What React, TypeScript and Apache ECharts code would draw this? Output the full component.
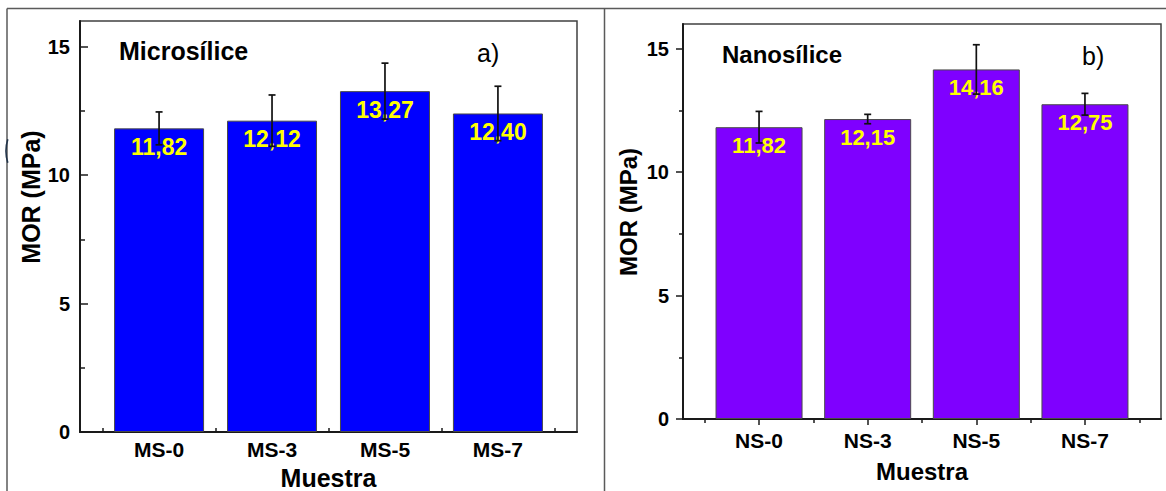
import React, { useEffect, useRef } from "react";
import * as echarts from "echarts";

const msCategories = ["MS-0", "MS-3", "MS-5", "MS-7"];
const msValues = [11.82, 12.12, 13.27, 12.4];
const msErrors = [0.64, 1.0, 1.09, 1.06];

const nsCategories = ["NS-0", "NS-3", "NS-5", "NS-7"];
const nsValues = [11.82, 12.15, 14.16, 12.75];
const nsErrors = [0.64, 0.19, 1.0, 0.44];

const yMajorTicks = [0, 5, 10, 15];
const yMinorTicks = [2.5, 7.5, 12.5];
const xMajorTicks = [1, 2, 3, 4];
const xMinorTicks = [0.5, 1.5, 2.5, 3.5, 4.5];

const FONT = "'Liberation Sans', Arial, sans-serif";

export default function App() {
  const ref = useRef<HTMLDivElement>(null);

  useEffect(() => {
    if (!ref.current) return;
    const chart = echarts.init(ref.current, undefined, { renderer: "svg" });

    const panels = [
      {
        cats: msCategories, vals: msValues, errs: msErrors,
        grid: { left: 80, top: 21, width: 497, height: 411 },
        inside: true, majorLen: 8, minorLen: 5, xMajorLen: 7, xMinorLen: 4,
        yMargin: 10, xMargin: 7, barWidth: 90, color: "#0000FF", labelSize: 23, tickSize: 21,
      },
      {
        cats: nsCategories, vals: nsValues, errs: nsErrors,
        grid: { left: 683, top: 24, width: 478, height: 395 },
        inside: false, majorLen: 7, minorLen: 4, xMajorLen: 6, xMinorLen: 4,
        yMargin: 14, xMargin: 11, barWidth: 87, color: "#7F00FF", labelSize: 22, tickSize: 21,
      },
    ];

    const grid: any[] = [];
    const xAxis: any[] = [];
    const yAxis: any[] = [];
    const series: any[] = [];

    panels.forEach((p, i) => {
      grid.push({ ...p.grid, show: true, borderColor: "#404040", borderWidth: 1.5, backgroundColor: "transparent" });
      const cats = p.cats;
      xAxis.push({
        type: "value", gridIndex: i, min: 0.3, max: 4.7, position: "bottom",
        axisLine: { show: true, onZero: false, lineStyle: { color: "#1a1a1a", width: 2 } },
        axisTick: { show: true, inside: p.inside, length: p.xMajorLen, customValues: xMajorTicks, lineStyle: { color: "#1a1a1a", width: 1.5 } },
        axisLabel: {
          show: true, customValues: xMajorTicks, margin: p.xMargin,
          formatter: (v: number) => cats[Math.round(v) - 1] ?? "",
          color: "#000", fontWeight: "bold", fontSize: p.tickSize, fontFamily: FONT,
        },
        splitLine: { show: false },
      });
      xAxis.push({
        type: "value", gridIndex: i, min: 0.3, max: 4.7, position: "bottom",
        axisLine: { show: false, onZero: false },
        axisTick: { show: true, inside: p.inside, length: p.xMinorLen, customValues: xMinorTicks, lineStyle: { color: "#1a1a1a", width: 1.5 } },
        axisLabel: { show: false },
        splitLine: { show: false },
      });
      yAxis.push({
        type: "value", gridIndex: i, min: 0, max: 16, position: "left",
        axisLine: { show: true, onZero: false, lineStyle: { color: "#1a1a1a", width: 2 } },
        axisTick: { show: true, inside: p.inside, length: p.majorLen, customValues: yMajorTicks, lineStyle: { color: "#1a1a1a", width: 1.5 } },
        axisLabel: {
          show: true, customValues: yMajorTicks, margin: p.yMargin,
          color: "#000", fontWeight: "bold", fontSize: 20, fontFamily: FONT,
        },
        splitLine: { show: false },
      });
      yAxis.push({
        type: "value", gridIndex: i, min: 0, max: 16, position: "left",
        axisLine: { show: false, onZero: false },
        axisTick: { show: true, inside: p.inside, length: p.minorLen, customValues: yMinorTicks, lineStyle: { color: "#1a1a1a", width: 1.5 } },
        axisLabel: { show: false },
        splitLine: { show: false },
      });

      series.push({
        type: "bar", xAxisIndex: i * 2, yAxisIndex: i * 2,
        barWidth: p.barWidth,
        data: p.vals.map((v, k) => [k + 1, v]),
        itemStyle: { color: p.color, borderColor: "#4a4a4a", borderWidth: 1 },
        label: {
          show: true, position: "insideTop", distance: 7,
          color: "#FFFF00", fontWeight: "bold", fontSize: p.labelSize, fontFamily: FONT,
          formatter: (params: any) => Number(params.value[1]).toFixed(2).replace(".", ","),
        },
        z: 2,
      });
      series.push({
        type: "custom", xAxisIndex: i * 2, yAxisIndex: i * 2,
        data: p.vals.map((v, k) => [k + 1, v, p.errs[k]]),
        z: 5,
        renderItem: (_params: any, api: any) => {
          const x = api.value(0);
          const y = api.value(1);
          const e = api.value(2);
          const top = api.coord([x, y + e]);
          const bot = api.coord([x, y - e]);
          const cw = 3.5;
          const st = { stroke: "#111", lineWidth: 1.7 };
          return {
            type: "group",
            children: [
              { type: "line", shape: { x1: top[0], y1: top[1], x2: bot[0], y2: bot[1] }, style: st },
              { type: "line", shape: { x1: top[0] - cw, y1: top[1], x2: top[0] + cw, y2: top[1] }, style: st },
              { type: "line", shape: { x1: bot[0] - cw, y1: bot[1], x2: bot[0] + cw, y2: bot[1] }, style: st },
            ],
          };
        },
      });
    });

    const frameStyle = { stroke: "#5a5a5a", lineWidth: 1.5 };
    const graphic: any[] = [
      { type: "line", shape: { x1: 7, y1: 8.5, x2: 1166, y2: 8.5 }, style: frameStyle },
      { type: "line", shape: { x1: 7, y1: 8.5, x2: 7, y2: 491 }, style: frameStyle },
      { type: "line", shape: { x1: 604.5, y1: 8.5, x2: 604.5, y2: 491 }, style: frameStyle },
      { type: "arc", shape: { cx: 46, cy: 151, r: 40, startAngle: Math.PI - 0.3, endAngle: Math.PI + 0.3, clockwise: true }, style: { stroke: "#22344a", lineWidth: 1.6, fill: "none" } },
      { type: "text", x: 119, y: 51, style: { text: "Microsílice", font: `bold 25px ${FONT}`, fill: "#000", textAlign: "left", textVerticalAlign: "middle" } },
      { type: "text", x: 477, y: 53, style: { text: "a)", font: `25px ${FONT}`, fill: "#000", textAlign: "left", textVerticalAlign: "middle" } },
      { type: "text", x: 722, y: 54, style: { text: "Nanosílice", font: `bold 24px ${FONT}`, fill: "#000", textAlign: "left", textVerticalAlign: "middle" } },
      { type: "text", x: 1082, y: 56, style: { text: "b)", font: `25px ${FONT}`, fill: "#000", textAlign: "left", textVerticalAlign: "middle" } },
      { type: "text", x: 31, y: 197, rotation: Math.PI / 2, style: { text: "MOR (MPa)", font: `bold 25px ${FONT}`, fill: "#000", textAlign: "center", textVerticalAlign: "middle" } },
      { type: "text", x: 628, y: 212, rotation: Math.PI / 2, style: { text: "MOR (MPa)", font: `bold 24px ${FONT}`, fill: "#000", textAlign: "center", textVerticalAlign: "middle" } },
      { type: "text", x: 328.5, y: 477.5, style: { text: "Muestra", font: `bold 25px ${FONT}`, fill: "#000", textAlign: "center", textVerticalAlign: "middle" } },
      { type: "text", x: 922, y: 471.5, style: { text: "Muestra", font: `bold 24px ${FONT}`, fill: "#000", textAlign: "center", textVerticalAlign: "middle" } },
    ];

    chart.setOption({
      animation: false,
      backgroundColor: "#ffffff",
      grid, xAxis, yAxis, series, graphic,
    });

    return () => chart.dispose();
  }, []);

  return (
    <div
      ref={ref}
      style={{ position: "absolute", left: 0, top: 0, width: 1166, height: 491 }}
    />
  );
}
